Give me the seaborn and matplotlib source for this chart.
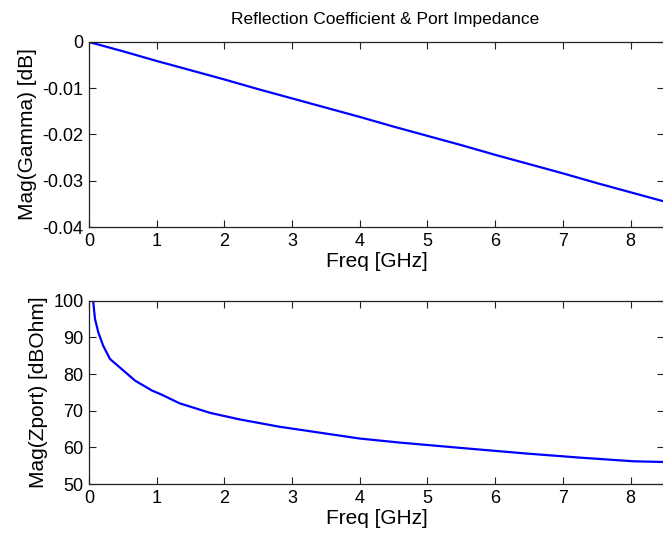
import matplotlib
matplotlib.use("Agg")
import matplotlib.pyplot as plt
import seaborn as sns

sns.set_style("ticks")
plt.rcParams['font.family'] = ['Liberation Sans', 'DejaVu Sans']
plt.rcParams['axes.unicode_minus'] = False

# reflection coefficient
freq_gamma = [0, 0.5, 1, 1.5, 2, 2.5, 3, 3.5, 4, 4.5, 5, 5.5, 6, 6.5, 7, 7.5, 8, 8.5]
mag_gamma = [0, -0.0020, -0.0041, -0.0061, -0.0081, -0.0102, -0.0122, -0.0142,
             -0.0162, -0.0183, -0.0203, -0.0223, -0.0244, -0.0264, -0.0284,
             -0.0305, -0.0325, -0.0345]

# port impedance
freq_z = [0.06, 0.064, 0.089, 0.137, 0.21, 0.31, 0.48, 0.68, 0.93, 1.07, 1.34,
          1.79, 2.23, 2.82, 3.41, 4.00, 4.59, 5.58, 6.47, 7.25, 8.04, 8.5]
mag_z = [101, 99.5, 95.0, 91.4, 87.7, 84.1, 81.4, 78.2, 75.5, 74.4, 72.0,
         69.4, 67.6, 65.6, 64.0, 62.4, 61.3, 59.7, 58.3, 57.2, 56.2, 56.0]

fig = plt.figure(figsize=(6.63, 5.35), dpi=100)
ax1 = fig.add_axes([0.1342, 0.5757, 0.868, 0.3458])
ax2 = fig.add_axes([0.1342, 0.0953, 0.868, 0.3427])

sns.lineplot(x=freq_gamma, y=mag_gamma, ax=ax1, color="#0000ff", lw=1.6, estimator=None)
sns.lineplot(x=freq_z, y=mag_z, ax=ax2, color="#0000ff", lw=1.6, estimator=None)

ax1.set_xlim(0, 8.5)
ax1.set_ylim(-0.04, 0)
ax1.set_yticks([0, -0.01, -0.02, -0.03, -0.04])
ax1.set_yticklabels(["0", "-0.01", "-0.02", "-0.03", "-0.04"])
ax1.set_ylabel("Mag(Gamma) [dB]", fontsize=15, color="black")
ax1.set_title("Reflection Coefficient & Port Impedance", fontsize=12.5,
              pad=13, color="black", x=0.515)

ax2.set_xlim(0, 8.5)
ax2.set_ylim(50, 100)
ax2.set_yticks([50, 60, 70, 80, 90, 100])
ax2.set_ylabel("Mag(Zport) [dBOhm]", fontsize=15, color="black")

for ax in (ax1, ax2):
    ax.set_xticks(range(0, 9))
    ax.set_xlabel("Freq [GHz]", fontsize=15, labelpad=2, color="black")
    ax.tick_params(direction="in", length=5, width=0.8, top=True, right=True,
                   labelsize=13, pad=4, color="#222222", labelcolor="black")
    for s in ax.spines.values():
        s.set_visible(True)
        s.set_linewidth(0.9)
        s.set_color("#222222")

fig.savefig("out.png", dpi=100)
